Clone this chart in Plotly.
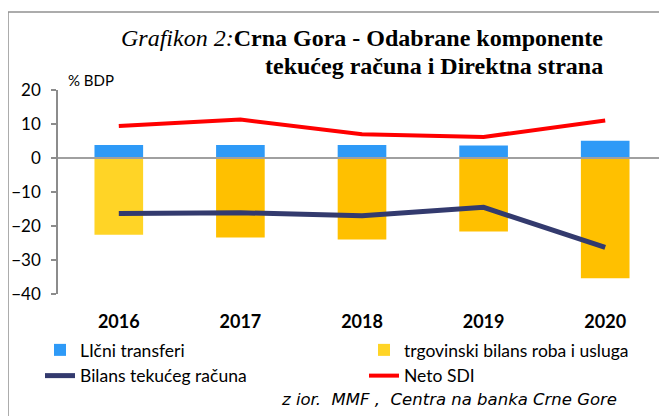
import plotly.graph_objects as go

years = ["2016", "2017", "2018", "2019", "2020"]
licni_transferi = [3.8, 3.8, 3.8, 3.7, 5.1]
trgovinski_bilans = [-22.6, -23.4, -24.0, -21.6, -35.4]
bilans_tekuceg = [-16.3, -16.1, -17.0, -14.5, -26.3]
neto_sdi = [9.4, 11.3, 7.0, 6.2, 11.0]
y_ticks = [20, 10, 0, -10, -20, -30, -40]

BLUE = "#2E9AF7"
GOLD = "#FFC000"
GOLD_LIGHT = "#FFD426"
NAVY = "#333A6E"
RED = "#FF0000"
GRAY = "#8C8C8C"
SANS = "Lato, 'Noto Sans', sans-serif"
SERIF = "'Liberation Serif', 'DejaVu Serif', serif"

fig = go.Figure()
fig.add_trace(go.Bar(
    x=years, y=licni_transferi, name="LIčni transferi",
    marker=dict(color=BLUE, line=dict(width=0)), width=0.4, legend="legend"))
fig.add_trace(go.Bar(
    x=years, y=trgovinski_bilans, name="trgovinski bilans roba i usluga",
    marker=dict(color=[GOLD_LIGHT] + [GOLD] * 4, line=dict(width=0)),
    width=0.4, legend="legend2"))
fig.add_trace(go.Scatter(
    x=years, y=bilans_tekuceg, name="Bilans tekućeg računa", mode="lines",
    line=dict(color=NAVY, width=5), legend="legend"))
fig.add_trace(go.Scatter(
    x=years, y=neto_sdi, name="Neto SDI", mode="lines",
    line=dict(color=RED, width=4), legend="legend2"))

# page body adds an 8px offset; all pixel targets below are in figure coords
OFF = 8
W, H = 667, 416
L, T = 58 - OFF, 90 - OFF
R = W - (666 - OFF)
B = H - (294 - OFF)
pw = W - L - R
ph = H - T - B

def px_x(p):
    return (p - OFF - L) / pw

def px_y(p):
    return (H - B - (p - OFF)) / ph

fig.update_layout(
    width=W, height=H,
    margin=dict(l=L, r=R, t=T, b=B, pad=0, autoexpand=False),
    paper_bgcolor="white", plot_bgcolor="white",
    barmode="relative", bargap=0.6,
    font=dict(family=SANS, size=16, color="#000000"),
    xaxis=dict(showgrid=False, showline=False, zeroline=False, ticks="",
               tickangle=0, automargin=False,
               tickfont=dict(family=SANS, size=18, color="#000", weight="bold"),
               ticklabelstandoff=15),
    yaxis=dict(range=[-40, 20], tickvals=y_ticks, showgrid=False, zeroline=False,
               automargin=False,
               showline=True, linecolor=GRAY, linewidth=1.5,
               ticks="outside", ticklen=5, tickcolor=GRAY, tickwidth=1.5,
               tickfont=dict(family=SANS, size=17, color="#000"),
               ticklabelstandoff=7),
    showlegend=True,
    legend=dict(x=32 / W, xref="container", xanchor="left",
                y=1 - (332 - OFF) / H, yref="container", yanchor="top",
                orientation="v", font=dict(family=SANS, size=17.5),
                bgcolor="rgba(0,0,0,0)", tracegroupgap=0),
    legend2=dict(x=356 / W, xref="container", xanchor="left",
                 y=1 - (332 - OFF) / H, yref="container", yanchor="top",
                 orientation="v", font=dict(family=SANS, size=17.5),
                 bgcolor="rgba(0,0,0,0)", tracegroupgap=0),
    shapes=[
        dict(type="line", xref="paper", yref="y", x0=0, x1=1, y0=0, y1=0,
             line=dict(color="#A0A0A0", width=2), layer="above"),
        dict(type="line", xref="paper", yref="paper",
             x0=px_x(8), x1=px_x(680), y0=px_y(12), y1=px_y(12),
             line=dict(color="#909090", width=1.5)),
        dict(type="line", xref="paper", yref="paper",
             x0=px_x(8), x1=px_x(8), y0=px_y(12), y1=px_y(430),
             line=dict(color="#909090", width=1.5)),
    ],
    annotations=[
        dict(xref="paper", yref="paper", x=px_x(605), y=px_y(38),
             xanchor="right", yanchor="middle", align="right", showarrow=False,
             text="<i>Grafikon 2:</i><b>Crna Gora - Odabrane komponente</b>",
             font=dict(family=SERIF, size=24, color="#000")),
        dict(xref="paper", yref="paper", x=px_x(605), y=px_y(66),
             xanchor="right", yanchor="middle", align="right", showarrow=False,
             text="<b>tekućeg računa i Direktna strana</b>",
             font=dict(family=SERIF, size=24, color="#000")),
        dict(xref="paper", yref="paper", x=px_x(66), y=px_y(80),
             xanchor="left", yanchor="middle", showarrow=False,
             text="% BDP", font=dict(family=SANS, size=15, color="#000")),
        dict(xref="paper", yref="paper", x=px_x(279), y=px_y(399),
             xanchor="left", yanchor="middle", showarrow=False,
             text="<i>z ior.  MMF ,  Centra na banka Crne Gore</i>",
             font=dict(family="'DejaVu Sans', sans-serif", size=16.5, color="#000")),
    ],
)

fig.write_html("out.html")
